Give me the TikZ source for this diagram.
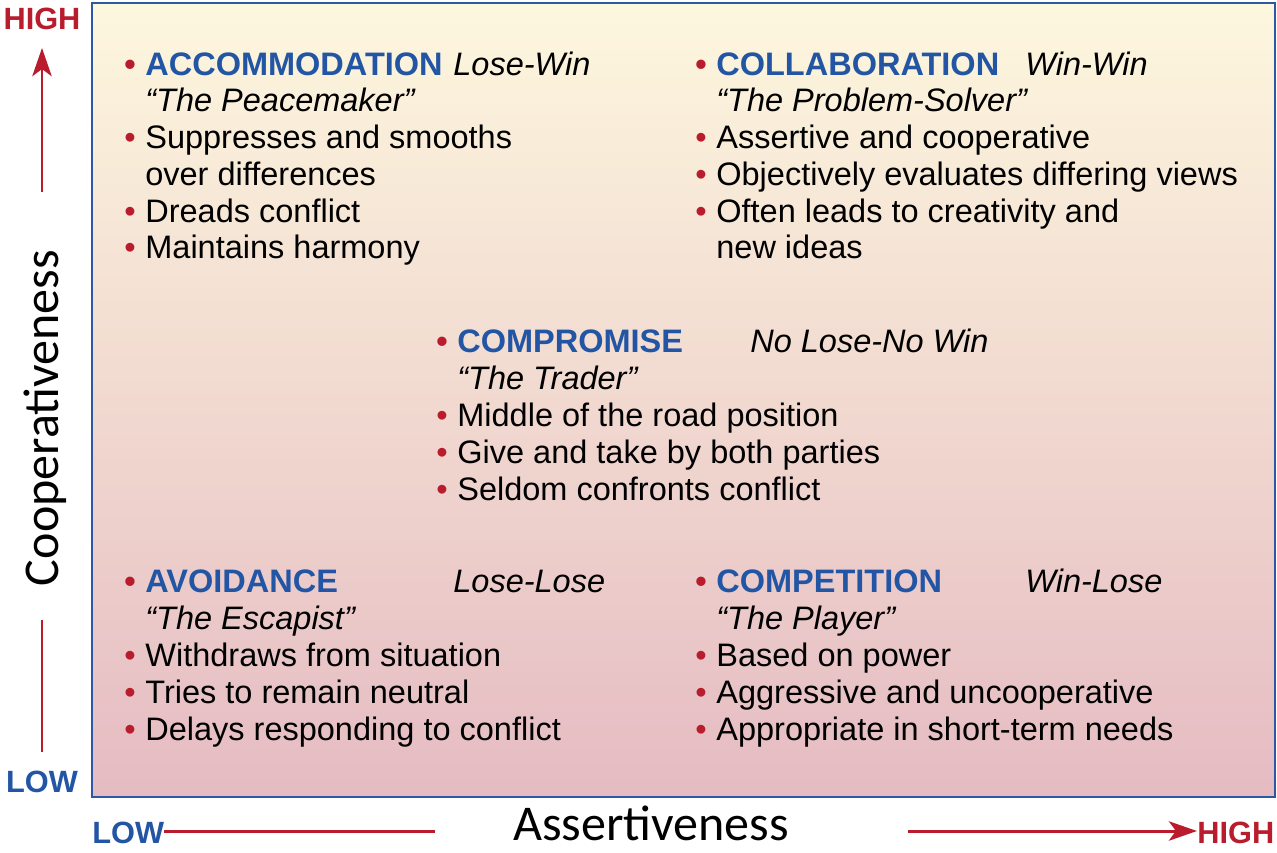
\documentclass[tikz,border=0pt]{standalone}
\usepackage{fontspec}
\setmainfont{Liberation Sans}
\newfontfamily\axisfont{Carlito}
\usetikzlibrary{arrows.meta, positioning}
\definecolor{myred}{RGB}{185,28,45}
\definecolor{myblue}{RGB}{35,85,165}
\definecolor{myframe}{RGB}{45,88,168}
\definecolor{bgtop}{RGB}{253,247,222}
\definecolor{bgmid}{RGB}{243,222,206}
\definecolor{bgbot}{RGB}{229,187,194}
\newcommand{\rbul}{\makebox[0pt][r]{\textcolor{myred}{\textbullet}\hspace{5.5pt}}}
\tikzset{
  txt/.style={anchor=base west, inner sep=0pt, font=\fontsize{18.5}{21}\selectfont},
  hdr/.style={anchor=base west, inner sep=0pt, font=\fontsize{18.5}{21}\selectfont\bfseries, text=myblue},
  tag/.style={anchor=base west, inner sep=0pt, font=\fontsize{18.5}{21}\selectfont\itshape},
  ends/.style={inner sep=0pt, font=\fontsize{17.5}{20}\selectfont\bfseries},
  axlabel/.style={inner sep=0pt, anchor=base, font=\axisfont\fontsize{28.5}{30}\selectfont},
  redarrow/.style={-{Stealth[length=16pt, width=11pt, inset=4pt]}, line width=1.7pt, color=myred},
  redline/.style={line width=1.7pt, color=myred}
}
\begin{document}
\begin{tikzpicture}[x=0.02cm, y=-0.02cm]
  \useasboundingbox (0,0) rectangle (1277,852);

  % frame with gradient
  \shade[top color=bgtop, middle color=bgmid, bottom color=bgbot] (92,3) rectangle (1275,797);
  \draw[myframe, line width=1.6pt] (92,3) rectangle (1275,797);

  % Accommodation
  \node[hdr] (acc-h) at (145,75) {\rbul ACCOMMODATION};
  \node[tag] (acc-t) at (453,75) {Lose-Win};
  \node[tag] (acc-n) at (145,111) {``The Peacemaker''};
  \node[txt] (acc-1) at (145,148) {\rbul Suppresses and smooths};
  \node[txt] (acc-2) at (145,185) {over differences};
  \node[txt] (acc-3) at (145,222) {\rbul Dreads conflict};
  \node[txt] (acc-4) at (145,258) {\rbul Maintains harmony};

  % Collaboration
  \node[hdr] (col-h) at (716,75) {\rbul COLLABORATION};
  \node[tag] (col-t) at (1025,75) {Win-Win};
  \node[tag] (col-n) at (716,111) {``The Problem-Solver''};
  \node[txt] (col-1) at (716,148) {\rbul Assertive and cooperative};
  \node[txt] (col-2) at (716,185) {\rbul Objectively evaluates differing views};
  \node[txt] (col-3) at (716,222) {\rbul Often leads to creativity and};
  \node[txt] (col-4) at (716,258) {new ideas};

  % Compromise
  \node[hdr] (com-h) at (457,352) {\rbul COMPROMISE};
  \node[tag] (com-t) at (750,352) {No Lose-No Win};
  \node[tag] (com-n) at (457,389) {``The Trader''};
  \node[txt] (com-1) at (457,426) {\rbul Middle of the road position};
  \node[txt] (com-2) at (457,463) {\rbul Give and take by both parties};
  \node[txt] (com-3) at (457,500) {\rbul Seldom confronts conflict};

  % Avoidance
  \node[hdr] (avo-h) at (145,592) {\rbul AVOIDANCE};
  \node[tag] (avo-t) at (453,592) {Lose-Lose};
  \node[tag] (avo-n) at (145,629) {``The Escapist''};
  \node[txt] (avo-1) at (145,666) {\rbul Withdraws from situation};
  \node[txt] (avo-2) at (145,703) {\rbul Tries to remain neutral};
  \node[txt] (avo-3) at (145,740) {\rbul Delays responding to conflict};

  % Competition
  \node[hdr] (cpt-h) at (716,592) {\rbul COMPETITION};
  \node[tag] (cpt-t) at (1025,592) {Win-Lose};
  \node[tag] (cpt-n) at (716,629) {``The Player''};
  \node[txt] (cpt-1) at (716,666) {\rbul Based on power};
  \node[txt] (cpt-2) at (716,703) {\rbul Aggressive and uncooperative};
  \node[txt] (cpt-3) at (716,740) {\rbul Appropriate in short-term needs};

  % vertical axis
  \node[ends, anchor=base, text=myred] (yhigh) at (42,30) {HIGH};
  \node[ends, anchor=base, text=myblue] (ylow) at (42,792) {LOW};
  \node[axlabel, rotate=90] (ylabel) at (58,418) {Cooperativeness};
  \coordinate (yarr-s) at (42,192);
  \coordinate (yarr-e) at (42,48);
  \coordinate (yline-s) at (42,620);
  \coordinate (yline-e) at (42,752);
  \draw[redarrow] (yarr-s) -- (yarr-e);
  \draw[redline] (yline-s) -- (yline-e);

  % horizontal axis
  \node[ends, anchor=base west, text=myblue] (xlow) at (92,843) {LOW};
  \node[ends, anchor=base west, text=myred] (xhigh) at (1197,843) {HIGH};
  \node[axlabel] (xlabel) at (651,840) {Assertiveness};
  \coordinate (xline-e) at (435,831);
  \coordinate (xarr-s) at (908,831);
  \draw[redline] (xlow.east |- xline-e) -- (xline-e);
  \draw[redarrow] (xarr-s) -- (xhigh.west |- xarr-s);
\end{tikzpicture}
\end{document}
